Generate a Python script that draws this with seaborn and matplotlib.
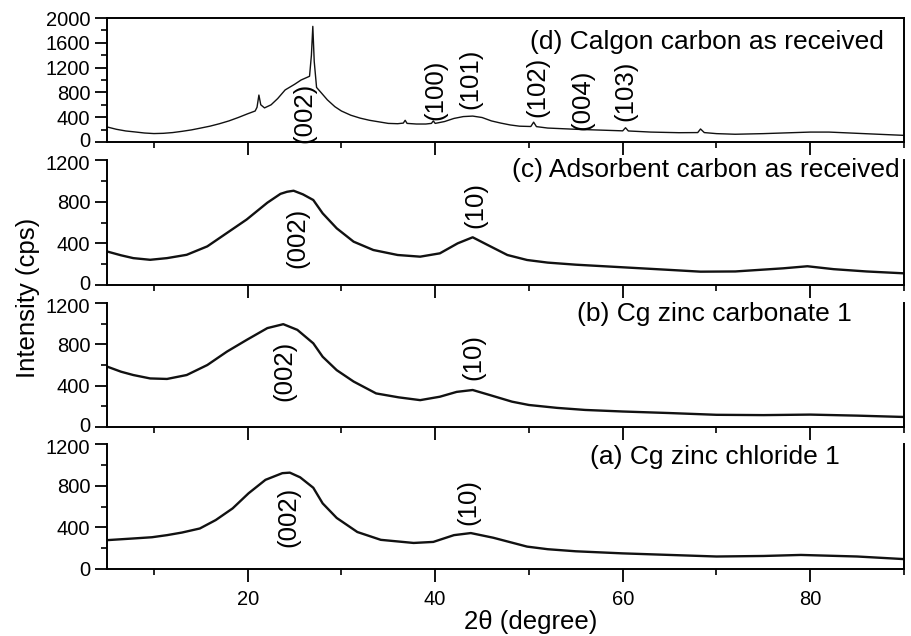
import matplotlib
matplotlib.use("Agg")
import matplotlib.pyplot as plt
import matplotlib.transforms as mtrans
from matplotlib.ticker import MultipleLocator
import seaborn as sns

# ---------------- data ----------------
# (d) Calgon carbon as received
x_d = [5, 6, 7, 8, 9, 10, 11, 12, 13, 14,
       15, 16, 17, 18, 19, 20, 20.8, 21.0, 21.2, 21.4,
       21.8, 22.5, 23.2, 24, 25, 25.7, 26.3, 26.6, 26.8, 26.95,
       27.1, 27.35, 27.9, 28.5, 29.3, 30, 31, 32, 33, 34,
       35, 36, 36.6, 36.8, 37.0, 38, 39, 39.6, 39.8, 40.0,
       41, 42, 43, 44, 45, 46, 47, 48, 49, 50.2,
       50.5, 50.8, 52, 55, 58, 60, 60.3, 60.6, 63, 66,
       68, 68.3, 68.7, 70, 72, 75, 78, 80, 82, 85,
       88, 90]
y_d = [243, 205, 178, 162, 145, 136, 140, 152, 172, 195,
       225, 256, 295, 340, 395, 455, 500, 560, 757, 600,
       550, 600, 700, 840, 930, 1000, 1040, 1060, 1400, 1865,
       1300, 880, 785, 680, 570, 500, 432, 385, 350, 325,
       300, 295, 305, 350, 300, 290, 290, 300, 340, 300,
       330, 380, 410, 418, 395, 340, 305, 275, 255, 250,
       320, 248, 225, 205, 190, 180, 230, 178, 160, 150,
       152, 210, 152, 135, 125, 135, 150, 160, 160, 140,
       120, 107]

# (c) Adsorbent carbon as received
x_c = [5, 6.5, 7.8, 9.6, 11.4, 13.5, 15.7, 17.8, 19.9, 22.1, 23.5, 24.2, 24.9, 25.9,
       27, 28, 29.5, 31.3, 33.4, 36, 38.4, 40.5, 42.4, 44, 45.6, 47.7, 49.8,
       52, 55, 60, 65, 68.3, 72, 77.1, 79.7, 82.5, 86, 90]
y_c = [322, 285, 258, 242, 258, 290, 371, 500, 629, 790, 875, 895, 905, 870,
       816, 688, 544, 416, 336, 288, 272, 304, 400, 458, 384, 288, 240,
       215, 195, 170, 145, 128, 130, 160, 180, 152, 130, 112]

# (b) Cg zinc carbonate 1
x_b = [5, 6.5, 7.8, 9.6, 11.4, 13.5, 15.7, 17.8, 19.9, 22.1, 23.8, 25.3,
       27, 28, 29.5, 31.3, 33.7, 36.1, 38.4, 40.5, 42.3, 44, 45.8, 48.2,
       50, 53, 56, 60, 65, 70, 75, 80, 85, 90]
y_b = [585, 535, 503, 470, 465, 503, 600, 730, 843, 957, 995, 940,
       810, 680, 550, 440, 325, 287, 260, 293, 340, 358, 310, 245,
       213, 185, 165, 150, 135, 118, 115, 120, 110, 97]

# (a) Cg zinc chloride 1
x_a = [5, 7.8, 9.8, 11.4, 13, 14.9, 16.6, 18.4, 20.1, 21.9, 23.7, 24.5,
       25.6, 27, 28, 29.5, 31.7, 34.2, 37.7, 39.8, 42, 43.8, 46.2, 49.8,
       52, 55, 60, 65, 70, 75, 79, 85, 90]
y_a = [277, 293, 305, 325, 350, 389, 470, 582, 727, 856, 920, 925,
       880, 780, 630, 490, 355, 280, 250, 260, 325, 345, 300, 215,
       190, 170, 150, 135, 120, 125, 135, 120, 95]

panel_labels = ["(d) Calgon carbon as received",
                "(c) Adsorbent carbon as received",
                "(b) Cg zinc carbonate 1",
                "(a) Cg zinc chloride 1"]

# peak annotations: (text, x, y) per panel
peaks_d = [("(002)", 26.1, 470), ("(100)", 40.0, 842), ("(101)", 43.8, 1019),
           ("(102)", 50.9, 890), ("(004)", 55.7, 673), ("(103)", 60.3, 826)]
peaks_c = [("(002)", 25.3, 456), ("(10)", 44.3, 768)]
peaks_b = [("(002)", 23.9, 540), ("(10)", 44.1, 678)]
peaks_a = [("(002)", 24.3, 500), ("(10)", 43.5, 643)]

# ---------------- style ----------------
sns.set_style("ticks")
plt.rcParams["font.family"] = ["Liberation Sans", "DejaVu Sans"]
plt.rcParams["text.color"] = "black"
plt.rcParams["axes.edgecolor"] = "black"
plt.rcParams["xtick.color"] = "black"
plt.rcParams["ytick.color"] = "black"

W, H = 912, 636
fig = plt.figure(figsize=(W / 100, H / 100), dpi=100)

left = 107 / W
width = 797 / W
# (top_px, bottom_px) of each panel
rows = [(18, 142), (160, 285), (303, 427), (444, 569)]
datasets = [(x_d, y_d, 2000, peaks_d, 1.0),
            (x_c, y_c, 1200, peaks_c, 1.7),
            (x_b, y_b, 1200, peaks_b, 1.7),
            (x_a, y_a, 1200, peaks_a, 1.7)]
label_pos = [(0.975, 0.806), (0.995, 0.92), (0.935, 0.915), (0.920, 0.896)]

up = mtrans.ScaledTranslation(0, 2.8 / 100, fig.dpi_scale_trans)
down = mtrans.ScaledTranslation(0, -2.8 / 100, fig.dpi_scale_trans)

for i, ((top, bot), (xs, ys, ymax, pk, lw)) in enumerate(zip(rows, datasets)):
    ax = fig.add_axes([left, 1 - bot / H, width, (bot - top) / H])
    sns.lineplot(x=xs, y=ys, ax=ax, color="#111111", linewidth=lw,
                 estimator=None, sort=False)
    ax.set_xlim(5, 90)
    ax.set_ylim(0, ymax)
    ax.xaxis.set_major_locator(MultipleLocator(20))
    ax.xaxis.set_minor_locator(MultipleLocator(10))
    ax.yaxis.set_major_locator(MultipleLocator(400))
    ax.yaxis.set_minor_locator(MultipleLocator(200))
    ax.tick_params(which="major", direction="out", length=9, width=1.3,
                   labelsize=14.5, pad=3)
    ax.tick_params(which="minor", direction="out", length=4.5, width=1.2)
    ax.tick_params(axis="x", which="major", pad=6)
    for s in ["left", "bottom", "right", "top"]:
        ax.spines[s].set_linewidth(1.4)
        ax.spines[s].set_color("black")
    ax.spines["top"].set_visible(i == 0)
    ax.spines["right"].set_visible(True)
    ax.set_xlabel("")
    ax.set_ylabel("")
    if i < 3:
        ax.tick_params(axis="x", labelbottom=False)
    for txt, px, py in pk:
        ax.text(px, py, txt, rotation=90, ha="center", va="center", fontsize=18.5)
    lx, ly = label_pos[i]
    ax.text(lx, ly, panel_labels[i], transform=ax.transAxes, ha="right",
            va="center", fontsize=19)
    ax.patch.set_alpha(0)

    # nudge adjacent "0" / top labels apart so they do not collide
    ticks = ax.yaxis.get_major_ticks()
    locs = ax.yaxis.get_majorticklocs()
    for t, v in zip(ticks, locs):
        if v == 0 and i < 3:
            t.label1.set_transform(t.label1.get_transform() + up)
        if v == ymax and i > 0:
            t.label1.set_transform(t.label1.get_transform() + down)

fig.text(28 / W, 1 - 298 / H, "Intensity (cps)", rotation=90, ha="center",
         va="center", fontsize=18.5)
fig.text(531 / W, 1 - 622 / H, "2\u03b8 (degree)", ha="center", va="center",
         fontsize=18.5)

fig.savefig("out.png", dpi=100, facecolor="white")
